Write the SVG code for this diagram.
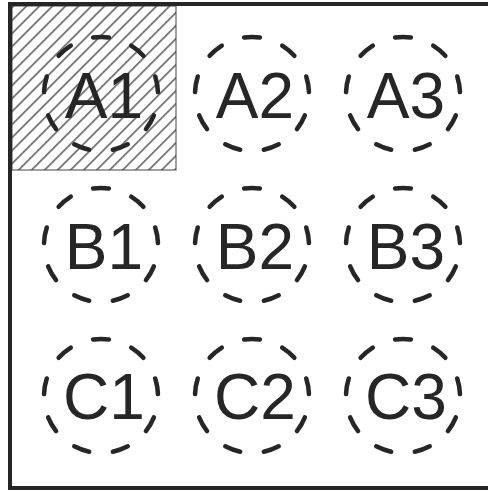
<svg xmlns="http://www.w3.org/2000/svg" width="488" height="491" viewBox="0 0 488 491">
  <style>
    .frame { stroke: #262626; stroke-width: 4; fill: none; stroke-linecap: square; }
    .ring { fill: none; stroke: #262626; stroke-width: 4.5; stroke-linecap: round; stroke-dasharray: 16 24; stroke-dashoffset: 18; }
    .lbl { font-family: "Liberation Sans", Arial, sans-serif; font-size: 64px; fill: #262626; text-anchor: middle; }
  </style>
  <defs>
    <pattern id="hatch" patternUnits="userSpaceOnUse" width="9.2" height="9.2" patternTransform="rotate(-45)">
      <rect width="9.2" height="9.2" fill="#ffffff"/>
      <line x1="0" y1="4.6" x2="9.2" y2="4.6" stroke="#222222" stroke-width="1.1"/>
    </pattern>
  </defs>
  <rect x="0" y="0" width="488" height="491" fill="#ffffff"/>
  <g id="hatched-area">
    <rect x="12" y="6" width="164" height="164" fill="url(#hatch)" stroke="#444444" stroke-width="1"/>
  </g>
  <g id="frame">
    <path class="frame" d="M488 4 H10 V488 H488"/>
  </g>
  <g id="A1"><circle class="ring" cx="101" cy="94" r="57" pathLength="360"/><text class="lbl" x="104" y="118">A1</text></g>
  <g id="A2"><circle class="ring" cx="252" cy="94" r="57" pathLength="360"/><text class="lbl" x="255" y="118">A2</text></g>
  <g id="A3"><circle class="ring" cx="403" cy="94" r="57" pathLength="360"/><text class="lbl" x="406" y="118">A3</text></g>
  <g id="B1"><circle class="ring" cx="101" cy="245" r="57" pathLength="360"/><text class="lbl" x="104" y="269">B1</text></g>
  <g id="B2"><circle class="ring" cx="252" cy="245" r="57" pathLength="360"/><text class="lbl" x="255" y="269">B2</text></g>
  <g id="B3"><circle class="ring" cx="403" cy="245" r="57" pathLength="360"/><text class="lbl" x="406" y="269">B3</text></g>
  <g id="C1"><circle class="ring" cx="101" cy="396" r="57" pathLength="360"/><text class="lbl" x="104" y="419">C1</text></g>
  <g id="C2"><circle class="ring" cx="252" cy="396" r="57" pathLength="360"/><text class="lbl" x="255" y="419">C2</text></g>
  <g id="C3"><circle class="ring" cx="403" cy="396" r="57" pathLength="360"/><text class="lbl" x="406" y="419">C3</text></g>
</svg>
